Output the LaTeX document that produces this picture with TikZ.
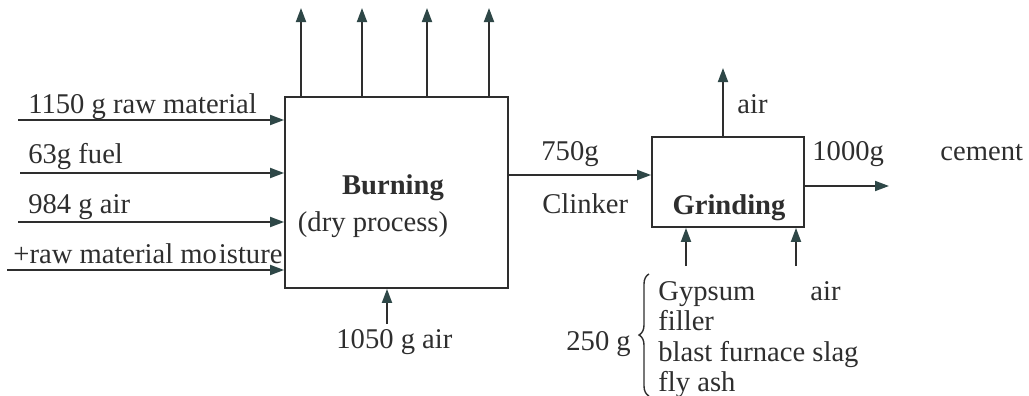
\documentclass[tikz,border=0pt]{standalone}
\usepackage{fontspec}
\setmainfont{Liberation Serif}
\usetikzlibrary{arrows.meta,decorations.pathreplacing}
\definecolor{ink}{HTML}{2E2E2E}
\definecolor{tip}{HTML}{2E4747}
\begin{document}
\begin{tikzpicture}[x=0.5pt,y=-0.5pt,
  lbl/.style={inner sep=0pt,anchor=base west,text=ink,font=\fontsize{14.3}{16}\selectfont},
  boxnode/.style={draw=ink,line width=0.9pt,inner sep=0pt},
  arr/.style={draw=ink,line width=0.9pt,-{Triangle[length=7pt,width=5pt,fill=tip,color=tip]}}]
\useasboundingbox (0,0) rectangle (1029,396);
% boxes
\node[boxnode,minimum width=111.5pt,minimum height=95.5pt] (B) at (396.5,192.5) {};
\node[boxnode,minimum width=76pt,minimum height=45pt] (G) at (728,182) {};
% input coordinates
\coordinate (s1) at (18,120);
\coordinate (s2) at (20,173);
\coordinate (s3) at (18,222);
\coordinate (s4) at (7,270);
\foreach \s in {s1,s2,s3,s4} \draw[arr] (\s) -- (B.west |- \s);
% top outputs
\coordinate (t1) at (301,8);
\coordinate (t2) at (362,8);
\coordinate (t3) at (427,8);
\coordinate (t4) at (489,8);
\foreach \t in {t1,t2,t3,t4} \draw[arr] (B.north -| \t) -- (\t);
% bottom air
\coordinate (b1) at (387,324);
\draw[arr] (b1) -- (B.south -| b1);
% clinker
\coordinate (c) at (580,175);
\draw[arr] (B.east |- c) -- (G.west |- c);
% grinding air out
\coordinate (a) at (723,68);
\draw[arr] (G.north -| a) -- (a);
% cement out
\coordinate (o) at (889,186);
\draw[arr] (G.east |- o) -- (o);
% grinding inputs
\coordinate (g1) at (686,266);
\coordinate (g2) at (796,266);
\draw[arr] (g1) -- (G.south -| g1);
\draw[arr] (g2) -- (G.south -| g2);
% brace
\draw[ink,line width=0.7pt,decorate,decoration={brace,amplitude=5pt}] (649,396) -- (649,274);
% labels
\node[lbl] (l1) at (28,113) {1150 g raw material};
\node[lbl] (l2) at (28,163) {63g fuel};
\node[lbl] (l3) at (28,213) {984 g air};
\node[lbl] (l4) at (13,263) {+raw material mo\hspace{1pt}isture};
\node[lbl,anchor=base,font=\fontsize{14.3}{16}\selectfont\bfseries] (bt) at (393,194) {Burning};
\node[lbl,anchor=base] (bd) at (373,231) {(dry process)};
\node[lbl] (l5) at (336,348) {1050 g air};
\node[lbl] (l6) at (541,160) {750g};
\node[lbl] (l7) at (542,213) {Clinker};
\node[lbl,anchor=base,font=\fontsize{14.3}{16}\selectfont\bfseries] (gt) at (729,214) {Grinding};
\node[lbl] (l8) at (737,113) {air};
\node[lbl] (l9) at (812,160) {1000g};
\node[lbl] (l10) at (940,160) {cement};
\node[lbl] (l11) at (658,300) {Gypsum};
\node[lbl] (l12) at (810,300) {air};
\node[lbl] (l13) at (658,330) {filler};
\node[lbl] (l14) at (658,361) {blast furnace slag};
\node[lbl] (l15) at (658,391) {fly ash};
\node[lbl] (l16) at (566,350) {250 g};
\end{tikzpicture}
\end{document}
